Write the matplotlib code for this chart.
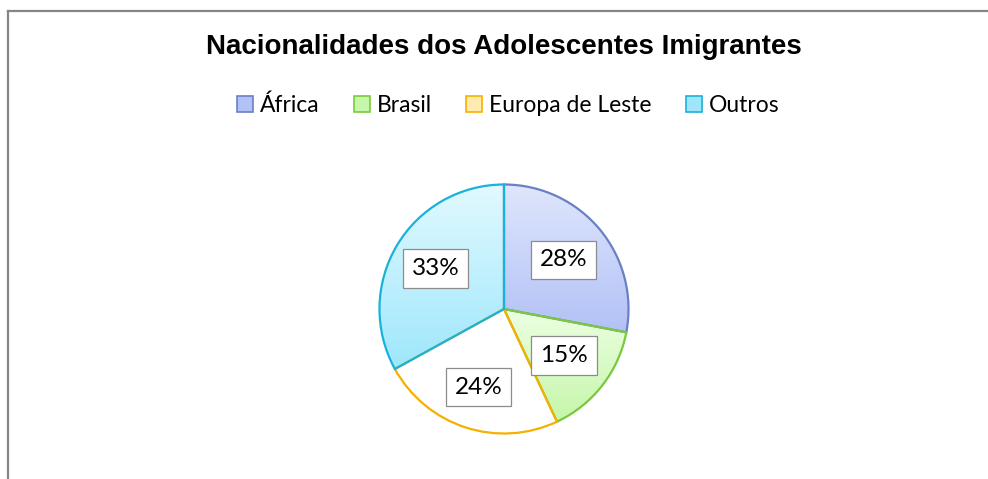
import numpy as np
import matplotlib
matplotlib.use('Agg')
import matplotlib.pyplot as plt
from matplotlib.patches import Patch
from matplotlib.lines import Line2D
from matplotlib.colors import LinearSegmentedColormap

# Data
categories = ['África', 'Brasil', 'Europa de Leste', 'Outros']
shares = [28, 15, 24, 33]
labels = ['28%', '15%', '24%', '33%']
title = 'Nacionalidades dos Adolescentes Imigrantes'

# Styles
grad_top = ['#dfe6fc', '#ecffe2', '#ffffff', '#e2f9ff']
grad_bottom = ['#b2c1f6', '#c6f6aa', '#ffffff', '#9ee7fb']
edge_colors = ['#6b80c4', '#7ac93c', '#f6b000', '#1ab2da']
label_dist = [0.62, 0.61, 0.66, 0.64]

W, H = 988, 479
fig = plt.figure(figsize=(W / 100, H / 100), dpi=100)
fig.patch.set_facecolor('white')

# chart frame (partly cropped, only left and top visible)
fx, fy = 7.5 / W, 1 - 10.5 / H
fig.add_artist(Line2D([fx, fx], [0, fy], transform=fig.transFigure,
                      color='#868686', lw=1.6))
fig.add_artist(Line2D([fx, 1], [fy, fy], transform=fig.transFigure,
                      color='#868686', lw=1.6))

# Pie axes: center (504, 309) px, radius 127 px
cx, cy, r = 504, 309, 127
ax = fig.add_axes([(cx - r) / W, (H - cy - r) / H, 2 * r / W, 2 * r / H])
wedges, _ = ax.pie(shares, startangle=90, counterclock=False, radius=1,
                   colors=['none'] * 4,
                   wedgeprops=dict(linewidth=1.6))
for i, w in enumerate(wedges):
    w.set_edgecolor(edge_colors[i])
    w.set_facecolor('none')
    w.set_zorder(3)
    verts = w.get_path().vertices
    x0, x1 = verts[:, 0].min(), verts[:, 0].max()
    y0, y1 = verts[:, 1].min(), verts[:, 1].max()
    cmap = LinearSegmentedColormap.from_list('g%d' % i, [grad_bottom[i], grad_top[i]])
    grad = np.linspace(0, 1, 256).reshape(-1, 1)
    im = ax.imshow(grad, cmap=cmap, origin='lower', aspect='auto',
                   extent=[x0, x1, y0, y1], zorder=2, interpolation='bicubic')
    im.set_clip_path(w)

# percentage labels at wedge mid-angles
start = 90.0
total = float(sum(shares))
for i, s in enumerate(shares):
    mid = np.deg2rad(start - (s / total) * 180)
    start -= s / total * 360
    ax.text(label_dist[i] * np.cos(mid), label_dist[i] * np.sin(mid), labels[i],
            ha='center', va='center', fontsize=17.5, family='Lato', zorder=5,
            bbox=dict(boxstyle='square,pad=0.36', facecolor='white',
                      edgecolor='#8c8c8c', linewidth=0.9))

ax.set_xlim(-1.02, 1.02)
ax.set_ylim(-1.02, 1.02)
ax.axis('off')

# title and legend
fig.text(cx / W, 1 - 47 / H, title, ha='center', va='center',
         fontsize=20, fontweight='bold', family='Liberation Sans')

handles = [Patch(facecolor=grad_bottom[i] if i != 2 else '#ffeab0',
                 edgecolor=edge_colors[i], linewidth=1.2) for i in range(4)]
fig.legend(handles, categories, loc='center', bbox_to_anchor=(508 / W, 1 - 105 / H),
           ncol=4, frameon=False, prop=dict(family='Lato', size=16.5),
           handlelength=0.7, handleheight=0.7, handletextpad=0.3,
           columnspacing=1.5)

fig.savefig('out.png', dpi=100)
